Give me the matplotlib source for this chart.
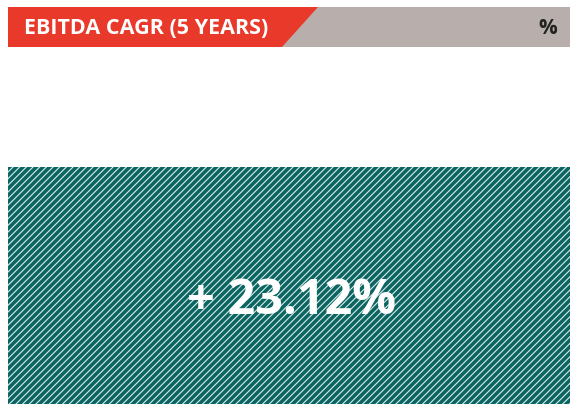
import matplotlib.pyplot as plt
from matplotlib.patches import Polygon, Rectangle

# data
title = 'EBITDA CAGR (5 YEARS)'
unit = '%'
cagr = 23.12

red = '#E8392A'
grey = '#B8AFAC'
teal = '#0C6561'

plt.rcParams['hatch.linewidth'] = 0.8

fig = plt.figure(figsize=(5.7, 4.04), dpi=100)
ax = fig.add_axes([0, 0, 1, 1])
ax.set_xlim(0, 570)
ax.set_ylim(404, 0)
ax.axis('off')

# header band
ax.add_patch(Rectangle((8, 7), 562, 40, facecolor=grey, edgecolor='none'))
ax.add_patch(Polygon([(8, 7), (318, 7), (282, 47), (8, 47)], closed=True,
                     facecolor=red, edgecolor='none'))
ax.text(24, 28, title, color='white', fontsize=15.5, fontweight='bold',
        family='Open Sans', ha='left', va='center')
ax.text(557, 28, unit, color='#222222', fontsize=15, fontweight='bold',
        family='Open Sans', ha='right', va='center')

# hatched value box
ax.add_patch(Rectangle((8, 167), 562, 237, facecolor=teal, edgecolor='#d8eeee',
                       linewidth=0, hatch='/////'))
ax.text(292, 302, '+ %.2f%%' % cagr, color='white', fontsize=35,
        fontweight='bold', family='Open Sans', ha='center', va='center')

fig.savefig('out.png', dpi=100)
